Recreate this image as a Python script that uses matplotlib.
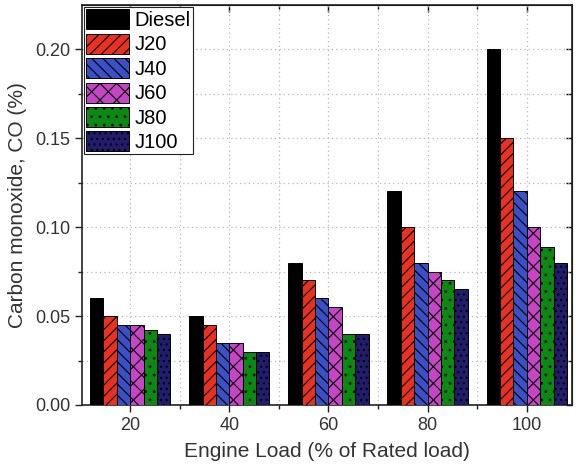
import numpy as np
import matplotlib
matplotlib.use("Agg")
from matplotlib import pyplot as plt
from matplotlib.ticker import MultipleLocator, FormatStrFormatter

plt.rcParams['font.family'] = ['Liberation Sans', 'DejaVu Sans']
plt.rcParams['hatch.linewidth'] = 0.8

loads = [20, 40, 60, 80, 100]
fuels = ['Diesel', 'J20', 'J40', 'J60', 'J80', 'J100']
diesel = [0.060, 0.050, 0.080, 0.120, 0.200]
j20 = [0.050, 0.045, 0.070, 0.100, 0.150]
j40 = [0.045, 0.035, 0.060, 0.080, 0.120]
j60 = [0.045, 0.035, 0.055, 0.075, 0.100]
j80 = [0.042, 0.030, 0.040, 0.070, 0.089]
j100 = [0.040, 0.030, 0.040, 0.065, 0.080]

series = [diesel, j20, j40, j60, j80, j100]
colors = ['#000000', '#e8321f', '#3a50c4', '#c545c5', '#0b8a12', '#221c6c']
hatches = ['', '///', '\\\\\\', 'xx', '..', '...']

fig = plt.figure(figsize=(5.76, 4.70), dpi=100)
ax = fig.add_axes([0.1424, 0.1383, 0.993 - 0.1424, 0.989 - 0.1383])

x = np.array(loads, dtype=float)
w = 2.7
for i, (vals, name) in enumerate(zip(series, fuels)):
    ax.bar(x + (i - 2.5) * w, vals, width=w, color=colors[i], edgecolor='black',
           linewidth=0.7, hatch=hatches[i], label=name, zorder=3)

ax.set_xlim(10.3, 109.1)
ax.set_ylim(0, 0.2247)
ax.set_xticks(loads)
ax.xaxis.set_minor_locator(MultipleLocator(10))
ax.yaxis.set_major_locator(MultipleLocator(0.05))
ax.yaxis.set_minor_locator(MultipleLocator(0.025))
ax.yaxis.set_major_formatter(FormatStrFormatter('%.2f'))

ax.grid(True, which='both', linestyle=(0, (1, 2.5)), color='#b8b8b8', linewidth=0.9, zorder=0)
ax.set_axisbelow(True)

ax.tick_params(which='both', direction='out', labelsize=13, width=1, color='#222222',
               labelcolor='#333333')
ax.tick_params(which='major', length=5)
ax.tick_params(which='minor', length=3)
for s in ax.spines.values():
    s.set_linewidth(1.2)
    s.set_color('#222222')

top = ax.secondary_xaxis('top')
top.set_xticks(loads)
top.xaxis.set_minor_locator(MultipleLocator(10))
top.tick_params(which='both', direction='in', labeltop=False, length=5, width=1)
top.tick_params(which='minor', length=3)

right = ax.secondary_yaxis('right')
right.yaxis.set_major_locator(MultipleLocator(0.025))
right.tick_params(which='both', direction='in', labelright=False, length=4, width=1)

ax.set_xlabel('Engine Load (% of Rated load)', fontsize=15, color='#333333', labelpad=6)
ax.set_ylabel('Carbon monoxide, CO (%)', fontsize=15, color='#333333', labelpad=6)

leg = ax.legend(loc='upper left', fontsize=14.5, handlelength=2.15, handleheight=1.15,
                handletextpad=0.25, labelspacing=0.18, borderpad=0.1,
                borderaxespad=0.1, fancybox=False, framealpha=1, edgecolor='#222222')
leg.get_frame().set_linewidth(0.8)

fig.savefig('out.png', dpi=100)
